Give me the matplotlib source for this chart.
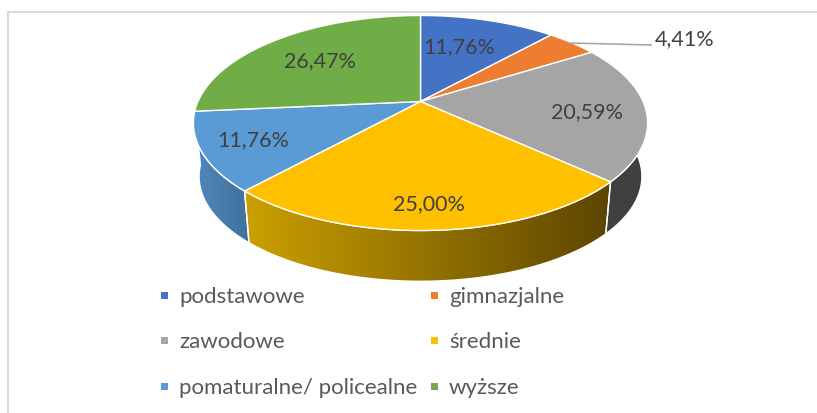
import numpy as np
import matplotlib
matplotlib.use('Agg')
import matplotlib.pyplot as plt
from matplotlib.colors import LinearSegmentedColormap
from matplotlib.patches import Polygon, Rectangle

plt.rcParams['font.family'] = ['Lato', 'DejaVu Sans']

# Data
categories = ['podstawowe', 'gimnazjalne', 'zawodowe', 'średnie', 'pomaturalne/ policealne', 'wyższe']
values = [11.76, 4.41, 20.59, 25.00, 11.76, 26.47]
colors = ['#4472C4', '#ED7D31', '#A5A5A5', '#FFC000', '#5B9BD5', '#70AD47']

# Layout, in pixels of the picture
cx, cy_top, cy_bottom = 420.5, 102.5, 156.5
rx, ry, persp = 222.5, 103.2, 0.2
bottom_scale = 0.975
label_pos = [(459, 47), (685, 39), (587, 112), (429, 204), (253, 140), (320, 61)]
legend_x = [165, 435]
legend_y = [296, 341, 387]

# Side wall shading for the slices that show a side
side_grad = {2: ['#404040', '#404040'], 3: ['#CBA000', '#5C4500'], 4: ['#5088BE', '#41719C']}


def rim(angle, cy, scale=1.0):
    # circle on a plane seen in perspective, angle clockwise from the top
    u, v = np.sin(angle), np.cos(angle)
    d = 1 + persp * v
    return np.column_stack([cx + scale * rx * u / d, cy - scale * ry * v / d])


fig = plt.figure(figsize=(8.17, 4.14), dpi=100)
ax = fig.add_axes([0, 0, 1, 1])
ax.axis('off')

# chart frame
ax.plot([8, 8, 817], [414, 13, 13], color='#D9D9D9', lw=1.5, solid_joinstyle='miter')

edges = np.cumsum([0] + values) / sum(values) * 2 * np.pi

# side walls first
for i in side_grad:
    a = np.linspace(edges[i], edges[i + 1], 80)
    top = rim(a, cy_top)
    bot = rim(a, cy_bottom, bottom_scale)
    pts = np.vstack([top, bot[::-1]])
    patch = Polygon(pts, closed=True, facecolor='none', edgecolor='white', lw=1, zorder=2)
    ax.add_patch(patch)
    cmap = LinearSegmentedColormap.from_list('side', side_grad[i])
    x0, x1, y0, y1 = pts[:, 0].min(), pts[:, 0].max(), pts[:, 1].min(), pts[:, 1].max()
    im = ax.imshow(np.linspace(0, 1, 256).reshape(1, -1), cmap=cmap, extent=[x0, x1, y1, y0],
                   aspect='auto', zorder=1.5, interpolation='bilinear')
    im.set_clip_path(patch)

# top faces
for i, color in enumerate(colors):
    a = np.linspace(edges[i], edges[i + 1], 120)
    pts = np.vstack([[[cx, cy_top]], rim(a, cy_top)])
    ax.add_patch(Polygon(pts, closed=True, facecolor=color, edgecolor='white', lw=1, zorder=3))

# leader line for the small slice
ax.plot([571, 651], [44, 46], color='#A6A6A6', lw=1.2, zorder=4)

for val, (x, y) in zip(values, label_pos):
    ax.text(x, y, f'{val:.2f}%'.replace('.', ','), ha='center', va='center',
            fontsize=15.5, color='#404040', zorder=5)

# legend, two columns
for i, name in enumerate(categories):
    x = legend_x[i % 2]
    y = legend_y[i // 2]
    ax.add_patch(Rectangle((x - 3.5, y - 3.5), 7, 7, facecolor=colors[i], edgecolor='none'))
    ax.text(x + 14, y + 1, name, ha='left', va='center', fontsize=16, color='#595959')

ax.set_xlim(0, 817)
ax.set_ylim(414, 0)
fig.savefig('out.png', dpi=100, facecolor='white')
